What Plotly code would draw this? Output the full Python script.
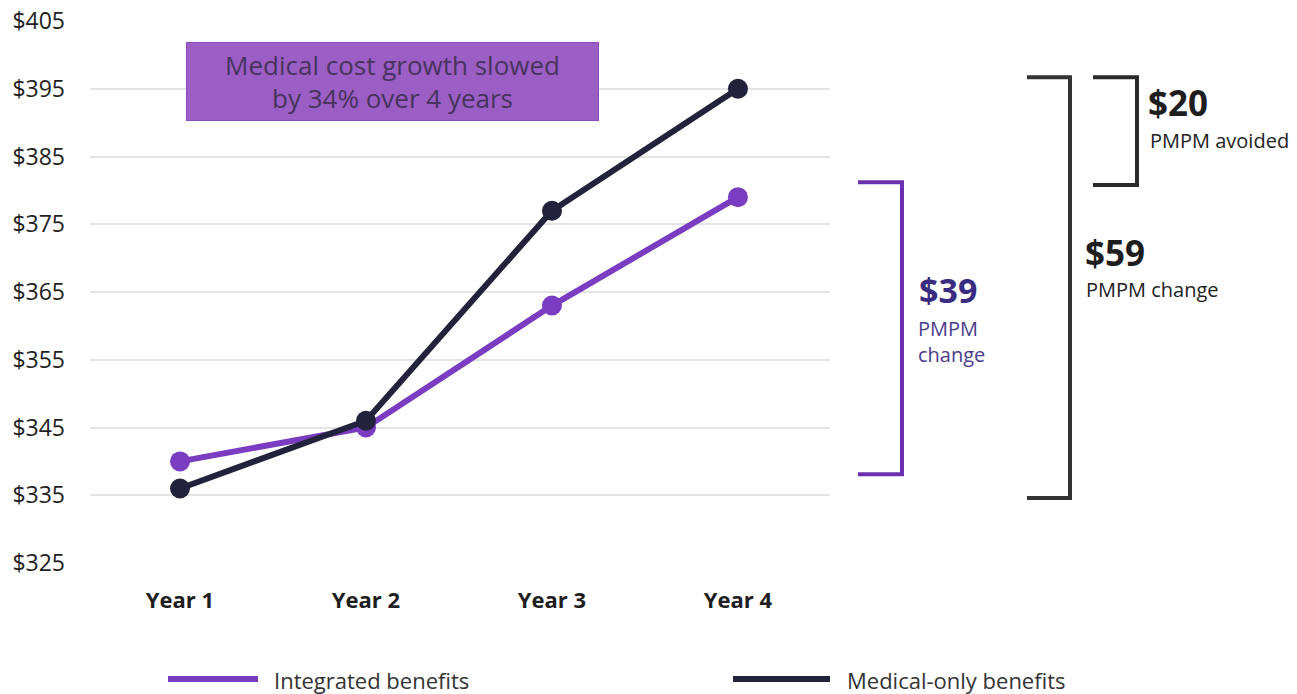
import plotly.graph_objects as go

years = ["Year 1", "Year 2", "Year 3", "Year 4"]
integrated = [340, 345, 363, 379]
medical_only = [336, 346, 377, 395]
y_ticks = [325, 335, 345, 355, 365, 375, 385, 395, 405]
y_tick_labels = ["$" + str(v) for v in y_ticks]
series_names = ["Integrated benefits", "Medical-only benefits"]

PURPLE = "#7a3cc0"
NAVY = "#22223a"
FONT = "Open Sans"

fig = go.Figure()
fig.add_trace(go.Scatter(
    x=years, y=integrated, name=series_names[0], mode="lines+markers",
    line=dict(color=PURPLE, width=6), marker=dict(size=20, color=PURPLE)))
fig.add_trace(go.Scatter(
    x=years, y=medical_only, name=series_names[1], mode="lines+markers",
    line=dict(color=NAVY, width=6), marker=dict(size=20, color=NAVY)))

fig.update_layout(
    width=1297, height=694,
    margin=dict(l=90, r=467, t=21, b=131, autoexpand=False),
    paper_bgcolor="white", plot_bgcolor="white",
    font=dict(family=FONT, color="#222222"),
    showlegend=False,
)
fig.update_yaxes(range=[325, 405], tickvals=y_ticks, ticktext=y_tick_labels,
                 automargin=False,
                 showgrid=True, gridcolor="#e4e4e4", gridwidth=2, zeroline=False,
                 showline=False, ticks="", ticklabelstandoff=24,
                 tickfont=dict(size=23, color="#1e1e1e"))
fig.update_xaxes(type="category", range=[-0.484, 3.495], showgrid=False,
                 automargin=False,
                 showline=False, zeroline=False, ticks="", ticklabelstandoff=22,
                 tickfont=dict(size=22, color="#1e1e1e", weight="bold"))

def px(xp):
    return (xp - 90) / 740

def py(yp):
    return (563 - yp) / 542

# Callout box
fig.add_annotation(xref="paper", yref="paper", x=px(392.5), y=py(81.5),
                   xanchor="center", yanchor="middle",
                   text="Medical cost growth slowed<br>by 34% over 4 years",
                   showarrow=False, bgcolor="#9b5ec4", bordercolor="#8a4cb8",
                   borderwidth=1, width=409, height=75,
                   font=dict(size=26, color="#47335e", family=FONT))

def bracket(x0, x1, y0, y1, color):
    fig.add_shape(type="path", xref="paper", yref="y",
                  path=f"M {px(x0)},{y1} L {px(x1)},{y1} L {px(x1)},{y0} L {px(x0)},{y0}",
                  line=dict(color=color, width=4))

# brackets (ends derived from the data)
bracket(858, 902, integrated[0] - 1.9, integrated[-1] + 2.2, "#6a30ae")
bracket(1027, 1070, medical_only[0] - 1.4, medical_only[-1] + 1.7, "#333333")
bracket(1093, 1137, integrated[-1] + 1.8, medical_only[-1] + 1.7, "#2a2a2a")

d39 = integrated[-1] - integrated[0]
d59 = medical_only[-1] - medical_only[0]
d20 = d59 - d39

def label(xp, yp, text, size, color, bold=False):
    fig.add_annotation(xref="paper", yref="paper", x=px(xp), y=py(yp),
                       text=text, showarrow=False, xanchor="left", yanchor="middle",
                       align="left",
                       font=dict(size=size, color=color, family=FONT,
                                 weight="bold" if bold else "normal"))

label(917, 290, f"${d39}", 34, "#3a2c80", True)
label(916, 341, "PMPM<br>change", 20, "#4b3c8c")
label(1083, 252, f"${d59}", 35, "#1e1e1e", True)
label(1084, 289, "PMPM change", 20, "#222222")
label(1146, 103, f"${d20}", 35, "#1e1e1e", True)
label(1148, 140, "PMPM avoided", 20, "#222222")

# legend (drawn below the plot)
legend_items = [(168, 258, 272, PURPLE), (733, 830, 845, NAVY)]
for name, (lx0, lx1, tx, col) in zip(series_names, legend_items):
    fig.add_shape(type="line", xref="paper", yref="paper",
                  x0=px(lx0), x1=px(lx1), y0=py(679), y1=py(679),
                  line=dict(color=col, width=6))
    label(tx, 680, name, 22, "#333333")

fig.write_html("out.html", config={"displayModeBar": False},
               post_script="document.body.style.margin='0';document.body.style.overflow='hidden';")
